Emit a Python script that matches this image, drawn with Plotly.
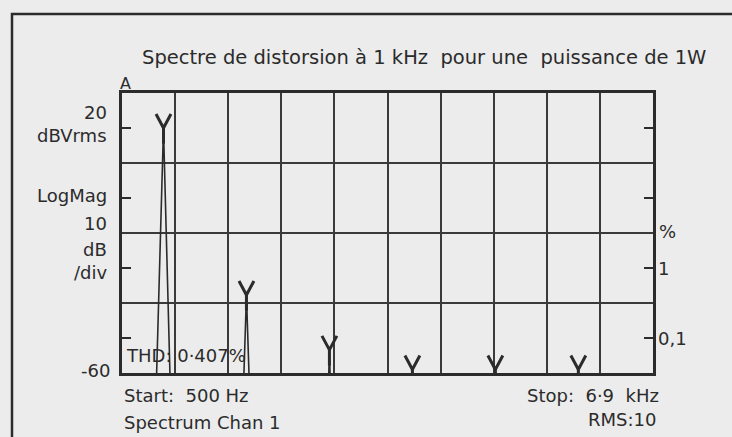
import math
import plotly.graph_objects as go

# ---- data -------------------------------------------------------------
# Harmonics of the 1 kHz test tone (frequency in Hz, level in dBVrms)
harm_hz = [1000, 2000, 3000, 4000, 5000, 6000]
harm_db = [10.0, -37.7, -53.4, -59.0, -59.0, -59.0]

# Analyzer trace (Hz, dBVrms); the floor lies below the -60 dB display limit
trace_hz = [500, 915, 1000, 1080, 1967, 2000, 2033, 2990, 3000, 3010,
            3995, 4000, 4005, 4995, 5000, 5005, 5995, 6000, 6005, 6900]
trace_db = [-62, -62, 10.0, -62, -62, -37.7, -62, -62, -53.4, -62,
            -62, -59.0, -62, -62, -59.0, -62, -62, -59.0, -62, -62]

# Display settings
start_hz, stop_hz = 500, 6900
top_db, bottom_db = 20, -60
half_div_db = [10, -10, -30, -50]        # small inward ticks
pct_ref_db = 10.0                        # fundamental = 100 %
pct_ticks = [1, 0.1]
pct_labels = ["1", "0,1"]

# ---- style ------------------------------------------------------------
INK = "#2b2b2b"
PAPER = "#ececec"
FONT = "DejaVu Sans"
FS = 18
W, H = 732, 437
L, R, T, B = 122, 653, 93, 373           # plot area in pixels

def px(x):
    return (x - L) / (R - L)

def py(y):
    return (B - y) / (B - T)

fig = go.Figure()

fig.add_trace(go.Scatter(
    x=trace_hz, y=trace_db, mode="lines",
    line=dict(color=INK, width=1.6), hoverinfo="skip", showlegend=False,
))

# "Y" shaped peak markers built on each harmonic level
arm_hz, arm_db, stem_db = 90, 4.0, 4.5
mx, my = [], []
for f, d in zip(harm_hz, harm_db):
    mx += [f - arm_hz, f, f + arm_hz, None, f, f, None]
    my += [d + arm_db, d, d + arm_db, None, d, d - stem_db, None]
fig.add_trace(go.Scatter(
    x=mx, y=my, mode="lines", line=dict(color=INK, width=3),
    hoverinfo="skip", showlegend=False,
))

axis_common = dict(showline=True, linecolor=INK, linewidth=2.5, mirror=True,
                   showticklabels=False, zeroline=False,
                   gridcolor="#3a3a3a", gridwidth=2)

fig.update_layout(
    width=W, height=H,
    margin=dict(l=L, r=W - R, t=T, b=H - B),
    paper_bgcolor=PAPER, plot_bgcolor=PAPER,
    font=dict(family=FONT, color=INK),
    xaxis=dict(range=[start_hz, stop_hz], tick0=start_hz,
               dtick=(stop_hz - start_hz) / 10, showgrid=True, ticks="",
               **axis_common),
    yaxis=dict(range=[bottom_db, top_db], tick0=bottom_db, dtick=20,
               showgrid=True, ticks="", **axis_common),
    yaxis2=dict(range=[bottom_db, top_db], overlaying="y", anchor="x",
                tickmode="array", tickvals=half_div_db, ticks="inside",
                ticklen=9, tickwidth=2, tickcolor=INK, mirror="ticks",
                showline=False, showgrid=False, showticklabels=False,
                zeroline=False),
)

# Invisible trace to bind the tick axis
fig.add_trace(go.Scatter(x=[start_hz], y=[bottom_db], yaxis="y2",
                         mode="markers", marker=dict(opacity=0),
                         hoverinfo="skip", showlegend=False))

ann = []

def text(t, x, y, anchor="left", size=FS):
    ann.append(dict(text=t, x=px(x), y=py(y), xref="paper", yref="paper",
                    xanchor=anchor, yanchor="middle", showarrow=False,
                    font=dict(size=size, family=FONT, color=INK)))

text("Spectre de distorsion à 1 kHz  pour une  puissance de 1W", 140, 57, size=19.5)
text("A", 125, 84, "center", 16)
for t, y in [("20", 112), ("dBVrms", 135), ("LogMag", 195), ("10", 223),
             ("dB", 249), ("/div", 272)]:
    text(t, 109, y, "right")
text("-60", 112, 370, "right")
text("THD: 0·407%", 124, 355, "left")
text("Start:  500 Hz", 122, 395, "left")
text("Spectrum Chan 1", 122, 422, "left")
text("Stop:  6·9  kHz", 661, 395, "right")
text("RMS:10", 658, 419, "right")
text("%", 667, 231, "center")

# percent scale on the right, referred to the fundamental
for p, lab in zip(pct_ticks, pct_labels):
    ann.append(dict(text=lab, x=1, xref="paper", xanchor="left", xshift=3,
                    y=pct_ref_db + 20 * math.log10(p / 100), yref="y",
                    yanchor="middle", showarrow=False,
                    font=dict(size=FS, family=FONT, color=INK)))

fig.update_layout(annotations=ann)

# outer frame of the figure panel
fig.add_shape(type="path", xref="paper", yref="paper",
              path=f"M {px(W + 10)},{py(14)} L {px(12)},{py(14)} L {px(12)},{py(H + 10)}",
              line=dict(color=INK, width=2.5))

fig.write_html("out.html")
